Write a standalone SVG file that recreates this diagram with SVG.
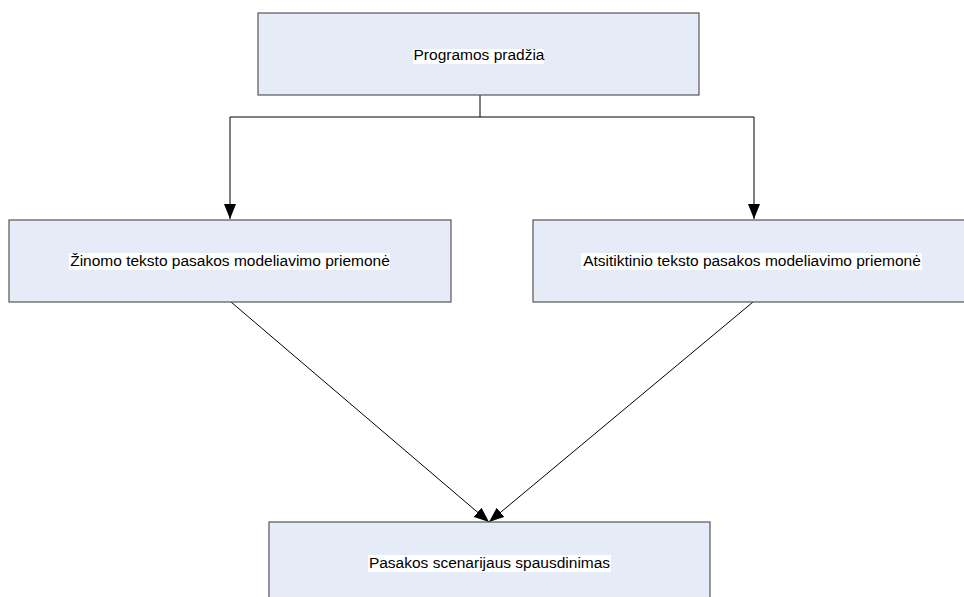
<svg xmlns="http://www.w3.org/2000/svg" width="964" height="597" viewBox="0 0 964 597">
<style>
.box{fill:#e6ecf7;stroke:#555;stroke-width:1.2}
.hl{fill:#fff}
.lbl{font-family:"Liberation Sans",Arial,sans-serif;font-size:15.5px;fill:#000;text-anchor:middle}
.conn{fill:none;stroke:#000;stroke-width:1}
</style>
<defs>
<marker id="arr" markerUnits="userSpaceOnUse" markerWidth="16" markerHeight="12" viewBox="0 0 16 12" refX="15" refY="6" orient="auto">
<path d="M0,0 L15,6 L0,12 Z" fill="#000"/>
</marker>
</defs>
<rect width="964" height="597" fill="#fff"/>
<g id="connectors">
<path class="conn" d="M480,95 V117 H230 V219" marker-end="url(#arr)"/>
<path class="conn" d="M480,117 H754 V219" marker-end="url(#arr)"/>
<path class="conn" d="M231,302 L489,522" marker-end="url(#arr)"/>
<path class="conn" d="M753,302 L489,522" marker-end="url(#arr)"/>
</g>
<g id="n1">
<rect class="box" x="258" y="13" width="441" height="82"/>
<rect class="hl" x="413" y="49" width="131" height="15"/>
<text class="lbl" x="479" y="60">Programos pradžia</text>
</g>
<g id="n2">
<rect class="box" x="9" y="220" width="442" height="82"/>
<rect class="hl" x="69" y="253" width="321" height="17"/>
<text class="lbl" x="230" y="266">Žinomo teksto pasakos modeliavimo priemonė</text>
</g>
<g id="n3">
<rect class="box" x="533" y="220" width="442" height="82"/>
<rect class="hl" x="581" y="253" width="341" height="17"/>
<text class="lbl" x="752" y="266">Atsitiktinio teksto pasakos modeliavimo priemonė</text>
</g>
<g id="n4">
<rect class="box" x="269" y="522" width="441" height="82"/>
<rect class="hl" x="368" y="555" width="243" height="17"/>
<text class="lbl" x="489.5" y="568">Pasakos scenarijaus spausdinimas</text>
</g>
</svg>
